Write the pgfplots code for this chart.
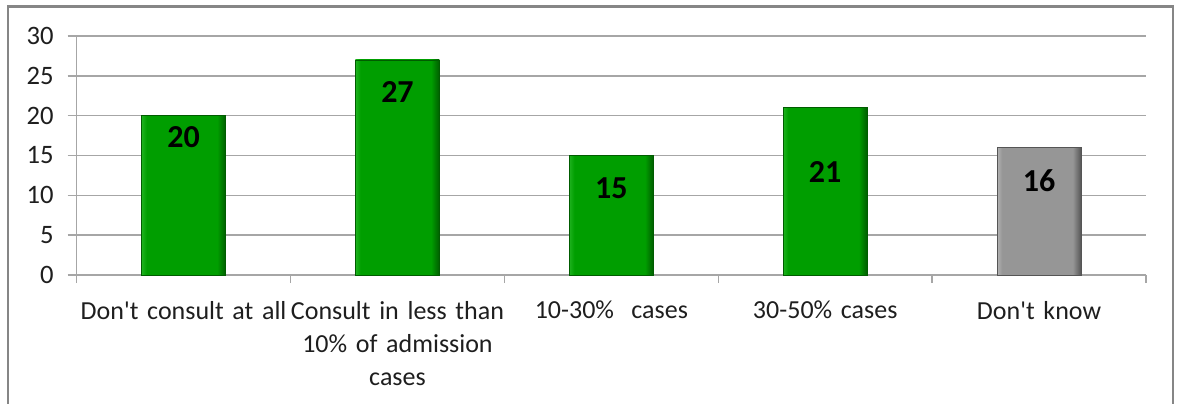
\documentclass[border=0pt]{standalone}
\usepackage{pgfplots}
\usepackage{pgfplotstable}
\pgfplotsset{compat=1.18}
\usepackage{fontspec}
\setmainfont{Carlito}

\definecolor{gridgray}{RGB}{166,166,166}
\definecolor{framegray}{RGB}{134,134,134}
\definecolor{txt}{RGB}{30,30,30}
\definecolor{gL}{RGB}{30,178,30}
\definecolor{gM}{RGB}{0,158,0}
\definecolor{gD}{RGB}{0,92,0}
\definecolor{sL}{RGB}{178,178,178}
\definecolor{sM}{RGB}{150,150,150}
\definecolor{sD}{RGB}{85,85,85}

% bevel-like shading across each bar: light left edge, flat face, dark right edge
\pgfdeclarehorizontalshading{greenbar}{100bp}{color(0bp)=(gL); color(25bp)=(gL); color(28bp)=(gM); color(70bp)=(gM); color(75bp)=(gD); color(100bp)=(gD)}
\pgfdeclarehorizontalshading{graybar}{100bp}{color(0bp)=(sL); color(25bp)=(sL); color(28bp)=(sM); color(70bp)=(sM); color(75bp)=(sD); color(100bp)=(sD)}

% one small table per bar: position, value, and how far below the bar top its label sits (pt)
\pgfplotstableread{
x y off
0 20 -10.5
}\barA
\pgfplotstableread{
x y off
1 27 -16.2
}\barB
\pgfplotstableread{
x y off
2 15 -16.2
}\barC
\pgfplotstableread{
x y off
3 21 -32
}\barD
\pgfplotstableread{
x y off
4 16 -16.5
}\barE

\begin{document}
\begin{tikzpicture}[x=1pt,y=1pt]
\useasboundingbox (0,0) rectangle (588.5,201.5);
\draw[framegray, line width=1.2pt] (4,-10) -- (4,198.2) -- (586.5,198.2) -- (586.5,-10);
\begin{axis}[
  at={(38.35pt,64pt)}, anchor=south west,
  scale only axis, width=534.65pt, height=119.5pt,
  xmin=-0.5, xmax=4.5, ymin=0, ymax=30,
  enlargelimits=false,
  axis x line*=bottom, axis y line*=left,
  axis line style={gridgray, line width=0.75pt},
  ytick={0,5,...,30},
  ymajorgrids, major grid style={gridgray, line width=0.75pt},
  xtick={0,...,4},
  xticklabels={Don\textquotesingle t consult at all, Consult in less than\\10\% of admission\\cases, 10-30\%\ \ cases, 30-50\% cases, Don\textquotesingle t know},
  minor xtick={-0.5,0.5,...,4.5},
  tick align=outside,
  major tick length=4.5pt, minor tick length=4pt,
  major x tick style={draw=none},
  minor x tick style={gridgray, line width=0.75pt},
  ytick style={gridgray, line width=0.75pt},
  /pgf/number format/assume math mode=true,
  xticklabel style={text width=110pt, align=center, font=\fontsize{13}{16.5}\selectfont, text=txt, yshift=-5pt},
  yticklabel style={font=\fontsize{13.3}{16}\selectfont, text=txt, xshift=-3.5pt},
  ybar, bar width=42pt, bar shift=0pt,
  nodes near coords,
  visualization depends on={\thisrow{off} \as \labshift},
  every node near coord/.append style={font=\fontsize{16}{19}\selectfont\bfseries, text=black, anchor=center, yshift=\labshift*1pt},
]
\addplot[draw=gD, line width=0.4pt, shading=greenbar] table[x=x, y=y] {\barA};
\addplot[draw=gD, line width=0.4pt, shading=greenbar] table[x=x, y=y] {\barB};
\addplot[draw=gD, line width=0.4pt, shading=greenbar] table[x=x, y=y] {\barC};
\addplot[draw=gD, line width=0.4pt, shading=greenbar] table[x=x, y=y] {\barD};
\addplot[draw=sD, line width=0.4pt, shading=graybar] table[x=x, y=y] {\barE};
\end{axis}
\end{tikzpicture}
\end{document}
